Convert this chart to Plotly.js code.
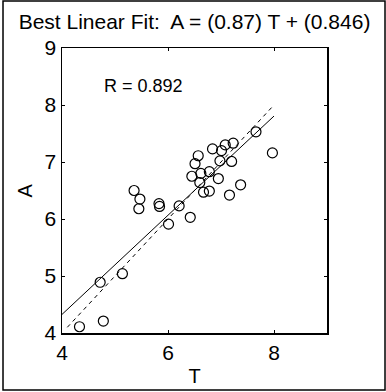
<!DOCTYPE html>
<html>
<head>
<meta charset="utf-8">
<script src="https://cdn.plot.ly/plotly-3.0.1.min.js"></script>
<style>
  html, body { margin: 0; padding: 0; background: #fff; }
  #chart { width: 386px; height: 392px; }
</style>
</head>
<body>
<div id="chart"></div>
<script>
const pointsT = [4.33, 4.78, 4.72, 5.14, 5.36, 5.47, 5.45, 5.83, 5.84, 6.21, 6.01, 6.42,
                 6.51, 6.57, 6.84, 7.08, 7.23, 7.01, 6.98, 7.20, 6.45, 6.62, 6.78, 6.95,
                 6.60, 6.67, 6.78, 7.16, 7.37, 7.66, 7.97];
const pointsA = [4.11, 4.21, 4.89, 5.04, 6.50, 6.35, 6.18, 6.27, 6.22, 6.23, 5.91, 6.03,
                 6.97, 7.11, 7.23, 7.30, 7.33, 7.20, 7.02, 7.01, 6.75, 6.80, 6.83, 6.71,
                 6.64, 6.47, 6.49, 6.42, 6.60, 7.53, 7.16];

// Best linear fit parameters
const fitSlope = 0.87;
const fitIntercept = 0.846;
const fitRange = [4, 8];
const identityRange = [4.1, 8];
const rValue = 0.892;

const xTicks = [4, 6, 8];
const yTicks = [4, 5, 6, 7, 8, 9];

const fitA = fitRange.map(t => fitSlope * t + fitIntercept);

const FONT = "Liberation Sans, Arial, sans-serif";

const traces = [
  {
    x: identityRange, y: identityRange, mode: 'lines', type: 'scatter',
    line: { color: '#000', width: 1, dash: '4px,4px' }, hoverinfo: 'skip'
  },
  {
    x: fitRange, y: fitA, mode: 'lines', type: 'scatter',
    line: { color: '#000', width: 1 }, hoverinfo: 'skip'
  },
  {
    x: pointsT, y: pointsA, mode: 'markers', type: 'scatter',
    marker: { symbol: 'circle-open', size: 10, color: '#000', line: { width: 1.2, color: '#000' } }
  }
];

const axisCommon = {
  showgrid: false, zeroline: false, showline: true, mirror: 'ticks',
  linecolor: '#000', linewidth: 1.5, ticks: 'inside', ticklen: 3, tickwidth: 1,
  tickcolor: '#000', tickfont: { family: FONT, size: 21, color: '#000' }
};

const layout = {
  width: 386, height: 392,
  margin: { l: 62, r: 59, t: 48, b: 59 },
  paper_bgcolor: '#fff', plot_bgcolor: '#fff',
  showlegend: false,
  font: { family: FONT, color: '#000' },
  title: {
    text: 'Best Linear Fit:  A = (' + fitSlope + ') T + (' + fitIntercept + ')',
    font: { family: FONT, size: 21, color: '#000' },
    x: 0.5, xref: 'paper', y: 0.945, yref: 'container', xanchor: 'center', yanchor: 'middle'
  },
  xaxis: Object.assign({}, axisCommon, {
    range: [4, 9], tickvals: xTicks, ticktext: xTicks.map(String),
    title: { text: 'T', font: { family: FONT, size: 20, color: '#000' }, standoff: 6 }
  }),
  yaxis: Object.assign({}, axisCommon, {
    range: [4, 9], tickvals: yTicks, ticktext: yTicks.map(String)
  }),
  annotations: [
    {
      x: 5.53, y: 8.33, xref: 'x', yref: 'y', showarrow: false,
      text: 'R = ' + rValue, font: { family: FONT, size: 18, color: '#000' }
    },
    {
      x: -0.14, y: 0.5, xref: 'paper', yref: 'paper', showarrow: false, textangle: -90,
      xanchor: 'center', yanchor: 'middle',
      text: 'A', font: { family: FONT, size: 20, color: '#000' }
    }
  ],
  shapes: [{
    type: 'rect', xref: 'paper', yref: 'paper',
    x0: -0.2226, x1: 1.2189, y0: -0.2, y1: 1.165,
    line: { color: '#000', width: 1.5 }
  }]
};

Plotly.newPlot('chart', traces, layout, { staticPlot: true, displayModeBar: false });
</script>
</body>
</html>
